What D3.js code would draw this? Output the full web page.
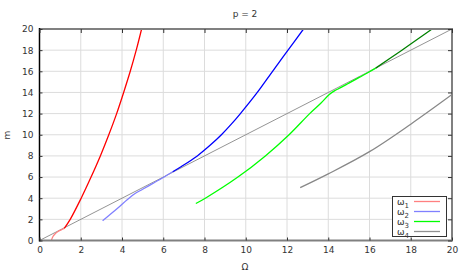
<!DOCTYPE html>
<html><head><meta charset="utf-8">
<script src="https://cdn.jsdelivr.net/npm/d3@7"></script>
<style>
html,body{margin:0;padding:0;background:#fff;}
svg{display:block;font-family:"DejaVu Sans",sans-serif;}
</style></head>
<body>
<svg id="c" width="468" height="273"></svg>
<script>
const title = "p = 2";
const xLabel = "Ω";
const yLabel = "m";
const xTicks = [0,2,4,6,8,10,12,14,16,18,20];
const yTicks = [0,2,4,6,8,10,12,14,16,18,20];

// omega1
const w1Light = [[0.58,0],[0.61,0.2],[0.66,0.4],[0.76,0.64],[0.9,0.85],[1.05,1.0],[1.2,1.15]];
const w1Dark = [[1.2,1.15],[1.49,2],[2.02,4],[2.5,6],[2.95,8],[3.36,10],[3.74,12],[4.08,14],[4.4,16],[4.69,18],[4.95,20]];
// omega2
const w2Light = [[3.06,1.86],[3.45,2.5],[3.87,3.2],[4.25,3.85],[4.6,4.4],[5.0,4.85],[5.5,5.4],[6.0,5.96],[6.46,6.5]];
const w2Dark = [[6.46,6.5],[6.88,7],[7.65,8],[8.27,9],[8.82,10],[9.3,11],[9.74,12],[10.56,14],[11.3,16],[12.05,18],[12.8,20]];
// omega3
const w3Light = [[7.58,3.5],[8.04,4],[9.62,6],[10.95,8],[12.1,10],[13.1,12],[13.65,13],[14.05,13.8],[14.3,14.15],[14.6,14.45],[15.0,14.88],[15.5,15.42],[16.0,15.96],[16.3,16.3]];
const w3Dark = [[16.3,16.3],[17.5,17.9],[19.0,19.95]];
// omega4
const w4 = [[12.64,5.0],[14,6.3],[16,8.4],[18,11.0],[20,13.8]];
// diagonal
const diag = [[0,0],[20,20]];

const legendLabels = ["1","2","3","4"];
const legendColors = ["#ff8080","#8080ff","#00ff00","#909090"];

const svg = d3.select("#c");
const L=39.5, R=452, T=29, B=240.5;
const x = d3.scaleLinear().domain([0,20]).range([L,R]);
const y = d3.scaleLinear().domain([0,20]).range([B,T]);

// grid
svg.append("g").selectAll("line").data(xTicks.slice(1,-1)).join("line")
  .attr("x1",d=>x(d)).attr("x2",d=>x(d)).attr("y1",T).attr("y2",B)
  .attr("stroke","#dcdcdc").attr("stroke-width",1);
svg.append("g").selectAll("line").data(yTicks.slice(1,-1)).join("line")
  .attr("y1",d=>y(d)).attr("y2",d=>y(d)).attr("x1",L).attr("x2",R)
  .attr("stroke","#dcdcdc").attr("stroke-width",1);

const line = d3.line().x(d=>x(d[0])).y(d=>y(d[1])).curve(d3.curveCatmullRom.alpha(0.5));
svg.append("clipPath").attr("id","pc").append("rect")
  .attr("x",L).attr("y",T).attr("width",R-L).attr("height",B-T);
const g = svg.append("g").attr("clip-path","url(#pc)");
function draw(data,color,w){
  g.append("path").datum(data).attr("d",line).attr("fill","none")
   .attr("stroke",color).attr("stroke-width",w);
}
draw(diag,"#888888",0.9);
draw(w1Light,"#ff8080",1.3);
draw(w1Dark,"#ff0000",1.3);
draw(w2Light,"#8080ff",1.3);
draw(w2Dark,"#0000ff",1.3);
draw(w3Light,"#00ff00",1.3);
draw(w3Dark,"#008000",1.3);
draw(w4,"#888888",1.3);

// frame
svg.append("line").attr("x1",L).attr("x2",R+1).attr("y1",T).attr("y2",T).attr("stroke","#808080").attr("stroke-width",2);
svg.append("line").attr("x1",R).attr("x2",R).attr("y1",T).attr("y2",B).attr("stroke","#808080").attr("stroke-width",2);
svg.append("line").attr("x1",L).attr("x2",R+1).attr("y1",B).attr("y2",B).attr("stroke","#808080").attr("stroke-width",2);
svg.append("line").attr("x1",L).attr("x2",L).attr("y1",T-1).attr("y2",B+1).attr("stroke","#000").attr("stroke-width",1.5);

// axes
const xa = svg.append("g").attr("transform",`translate(0,${B})`)
  .call(d3.axisBottom(x).tickValues(xTicks).tickSize(-3).tickPadding(6).tickFormat(d3.format("d")));
const ya = svg.append("g").attr("transform",`translate(${L},0)`)
  .call(d3.axisLeft(y).tickValues(yTicks).tickSize(-3).tickPadding(6).tickFormat(d3.format("d")));
const xt = svg.append("g").attr("transform",`translate(0,${T})`)
  .call(d3.axisTop(x).tickValues(xTicks).tickSize(-4).tickFormat(""));
const yr = svg.append("g").attr("transform",`translate(${R},0)`)
  .call(d3.axisRight(y).tickValues(yTicks).tickSize(-4).tickFormat(""));
[xa,ya,xt,yr].forEach(a=>{a.select(".domain").remove();
  a.selectAll(".tick line").attr("stroke","#333");
  a.selectAll("text").attr("fill","#333").style("font-size","9px").style("font-family","DejaVu Sans");});

// labels
svg.append("text").attr("x",245).attr("y",17).attr("text-anchor","middle")
  .style("font-size","9px").attr("fill","#333").text(title);
svg.append("text").attr("x",245).attr("y",270).attr("text-anchor","middle")
  .style("font-size","9px").attr("fill","#333").text(xLabel);
svg.append("text").attr("transform","translate(10,135) rotate(-90)").attr("text-anchor","middle")
  .style("font-size","9px").attr("fill","#333").text(yLabel);

// legend
const lg = svg.append("g");
lg.append("rect").attr("x",392.5).attr("y",196.5).attr("width",54).attr("height",40)
  .attr("fill","#fff").attr("stroke","#333").attr("stroke-width",1);
legendLabels.forEach((s,i)=>{
  const yy = 201.5 + i*10;
  const t = lg.append("text").attr("x",397).attr("y",yy+3.5).style("font-size","9px").attr("fill","#333");
  t.append("tspan").text("ω");
  t.append("tspan").attr("dy",2.5).style("font-size","7px").text(s);
  lg.append("line").attr("x1",414).attr("x2",440).attr("y1",yy).attr("y2",yy)
    .attr("stroke",legendColors[i]).attr("stroke-width",1.3);
});
</script>
</body></html>
